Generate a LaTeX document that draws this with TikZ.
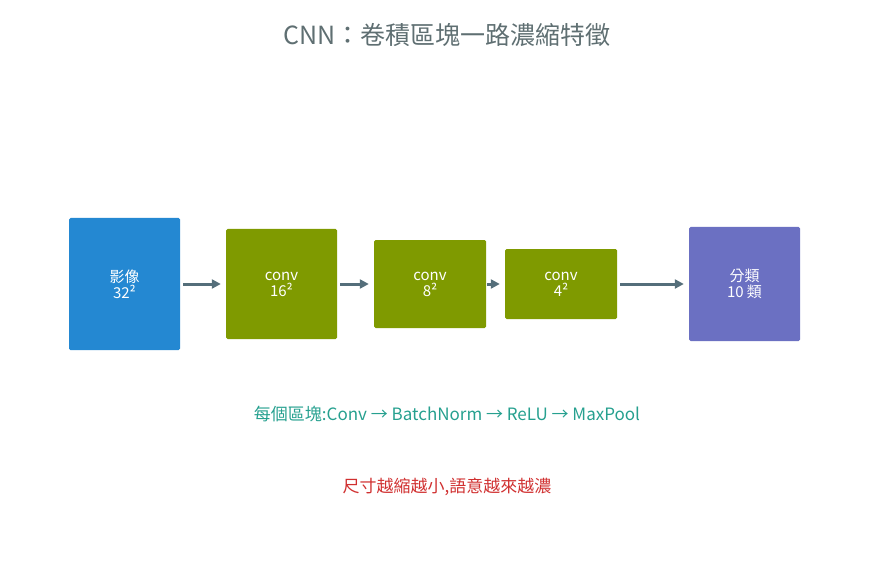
\documentclass[tikz,border=0pt]{standalone}
\usepackage{fontspec}
\setmainfont{Noto Sans CJK TC}
\usetikzlibrary{arrows.meta}
\definecolor{blu}{HTML}{2488D2}
\definecolor{oli}{HTML}{7F9A00}
\definecolor{pur}{HTML}{6B70C2}
\definecolor{arr}{HTML}{546E7A}
\definecolor{tit}{HTML}{5F6F72}
\definecolor{teal}{HTML}{26A08F}
\definecolor{rd}{HTML}{D03030}
\begin{document}
\begin{tikzpicture}[x=1pt,y=-1pt,
 box/.style={rounded corners=1.5pt,text=white,font=\fontsize{15}{16}\selectfont,align=center,inner sep=0pt},
 ar/.style={-{Triangle[length=9pt,width=9pt]},line width=3pt,arr}]
\useasboundingbox (0,0) rectangle (894,564);
\node[box,fill=blu,minimum width=111pt,minimum height=132pt] (a) at (124.5,284) {影像\\32²};
\node[box,fill=oli,minimum width=111pt,minimum height=110pt] (b) at (281.5,284) {conv\\16²};
\node[box,fill=oli,minimum width=112pt,minimum height=88pt] (c) at (430,284) {conv\\8²};
\node[box,fill=oli,minimum width=112pt,minimum height=70pt] (d) at (561,284) {conv\\4²};
\node[box,fill=pur,minimum width=111pt,minimum height=114pt] (e) at (744.5,284) {分類\\10 類};
\draw[ar] ([xshift=3pt]a.east) -- ([xshift=-5pt]b.west);
\draw[ar] ([xshift=3pt]b.east) -- ([xshift=-5pt]c.west);
\draw[ar] ([xshift=1pt]c.east) -- ([xshift=-5pt]d.west);
\draw[ar] ([xshift=3pt]d.east) -- ([xshift=-5pt]e.west);
\node[text=tit,font=\fontsize{25}{28}\selectfont] (t) at (447,35) {CNN：卷積區塊一路濃縮特徵};
\node[text=teal,font=\fontsize{17}{20}\selectfont] (s) at (447,414) {每個區塊:Conv → BatchNorm → ReLU → MaxPool};
\node[text=rd,font=\fontsize{17}{20}\selectfont] (r) at (447,487) {尺寸越縮越小,語意越來越濃};
\end{tikzpicture}
\end{document}
